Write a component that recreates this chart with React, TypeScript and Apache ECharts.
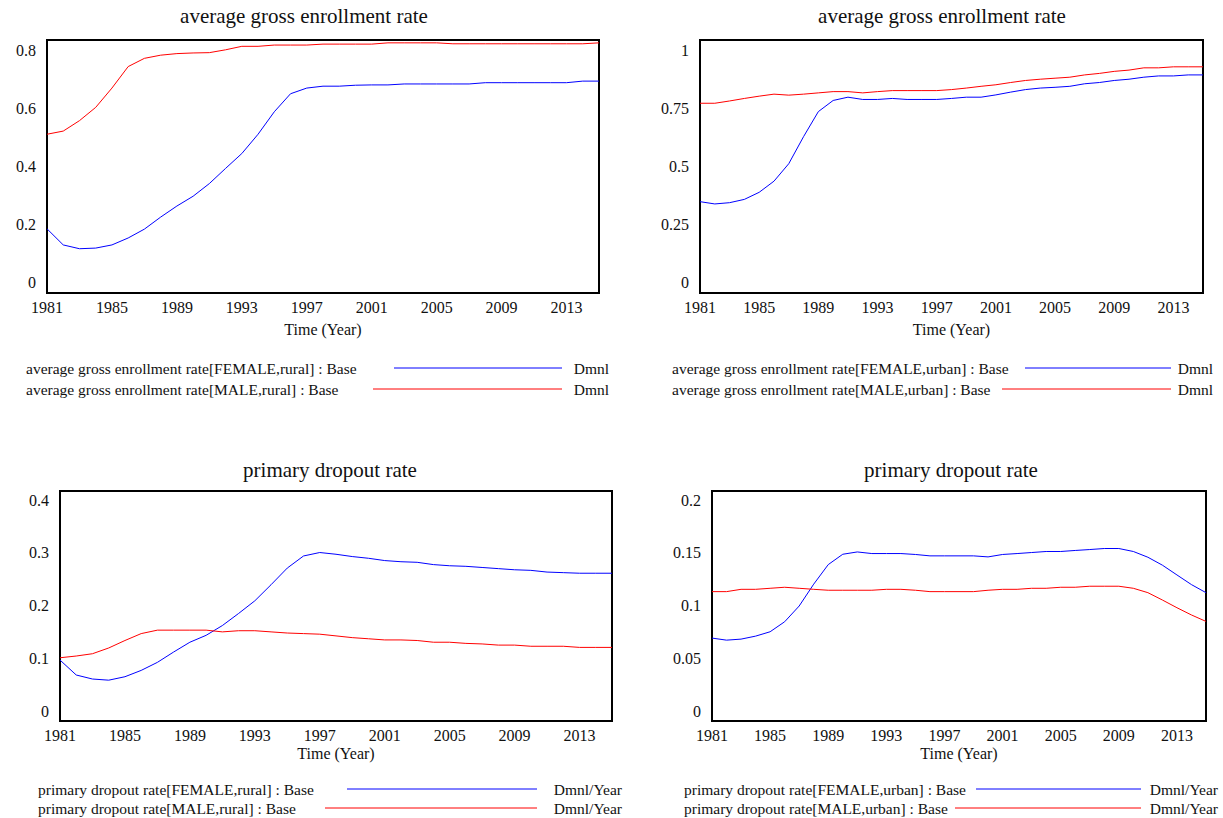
import React, { useEffect, useRef } from "react";
import * as echarts from "echarts";

const years = [1981, 1982, 1983, 1984, 1985, 1986, 1987, 1988, 1989, 1990, 1991, 1992, 1993, 1994, 1995, 1996, 1997, 1998, 1999, 2000, 2001, 2002, 2003, 2004, 2005, 2006, 2007, 2008, 2009, 2010, 2011, 2012, 2013, 2014, 2015];

const femaleRuralEnroll = [0.203, 0.152, 0.140, 0.142, 0.152, 0.174, 0.202, 0.240, 0.275, 0.306, 0.346, 0.394, 0.441, 0.502, 0.573, 0.630, 0.648, 0.654, 0.654, 0.657, 0.658, 0.658, 0.661, 0.661, 0.661, 0.661, 0.661, 0.665, 0.665, 0.665, 0.665, 0.665, 0.665, 0.670, 0.670];
const maleRuralEnroll = [0.502, 0.512, 0.545, 0.587, 0.648, 0.716, 0.742, 0.752, 0.757, 0.759, 0.760, 0.769, 0.780, 0.780, 0.784, 0.784, 0.784, 0.787, 0.787, 0.787, 0.787, 0.791, 0.791, 0.791, 0.791, 0.788, 0.788, 0.788, 0.788, 0.788, 0.788, 0.788, 0.788, 0.788, 0.791];
const femaleUrbanEnroll = [0.361, 0.352, 0.357, 0.370, 0.398, 0.442, 0.511, 0.618, 0.717, 0.761, 0.774, 0.765, 0.765, 0.769, 0.765, 0.765, 0.765, 0.769, 0.774, 0.774, 0.783, 0.794, 0.804, 0.810, 0.813, 0.817, 0.827, 0.832, 0.840, 0.845, 0.853, 0.858, 0.858, 0.862, 0.862];
const maleUrbanEnroll = [0.750, 0.750, 0.759, 0.769, 0.778, 0.786, 0.782, 0.786, 0.791, 0.796, 0.796, 0.791, 0.796, 0.800, 0.800, 0.800, 0.800, 0.804, 0.810, 0.817, 0.823, 0.832, 0.840, 0.845, 0.849, 0.853, 0.862, 0.868, 0.876, 0.881, 0.890, 0.890, 0.894, 0.894, 0.894];
const femaleRuralDrop = [0.106, 0.080, 0.073, 0.071, 0.077, 0.088, 0.102, 0.120, 0.137, 0.149, 0.166, 0.187, 0.209, 0.237, 0.266, 0.287, 0.293, 0.290, 0.286, 0.283, 0.279, 0.277, 0.276, 0.272, 0.270, 0.269, 0.267, 0.265, 0.263, 0.262, 0.259, 0.258, 0.257, 0.257, 0.257];
const maleRuralDrop = [0.110, 0.113, 0.117, 0.127, 0.140, 0.152, 0.158, 0.158, 0.158, 0.158, 0.155, 0.157, 0.157, 0.155, 0.153, 0.152, 0.151, 0.148, 0.145, 0.143, 0.141, 0.141, 0.140, 0.137, 0.137, 0.135, 0.134, 0.132, 0.132, 0.130, 0.130, 0.130, 0.128, 0.128, 0.128];
const femaleUrbanDrop = [0.0721, 0.0703, 0.0712, 0.0738, 0.0776, 0.0863, 0.100, 0.119, 0.136, 0.145, 0.147, 0.1456, 0.1456, 0.1456, 0.1448, 0.1436, 0.1436, 0.1436, 0.1436, 0.1427, 0.1448, 0.1456, 0.1465, 0.1474, 0.1474, 0.1483, 0.1491, 0.150, 0.150, 0.1474, 0.1424, 0.1355, 0.127, 0.1186, 0.1116];
const maleUrbanDrop = [0.1125, 0.1125, 0.1145, 0.1145, 0.1154, 0.1163, 0.1154, 0.1145, 0.1137, 0.1137, 0.1137, 0.1137, 0.1145, 0.1145, 0.1137, 0.1125, 0.1125, 0.1125, 0.1125, 0.1137, 0.1145, 0.1145, 0.1154, 0.1154, 0.1163, 0.1163, 0.1172, 0.1172, 0.1172, 0.1154, 0.1116, 0.1052, 0.0985, 0.0922, 0.0866];

const chartTitles = ["average gross enrollment rate", "average gross enrollment rate", "primary dropout rate", "primary dropout rate"];
const xAxisName = "Time (Year)";
const yMax = [0.8, 1, 0.4, 0.2];
const yStep = [0.2, 0.25, 0.1, 0.05];
const femaleLegend = [
  "average gross enrollment rate[FEMALE,rural] : Base",
  "average gross enrollment rate[FEMALE,urban] : Base",
  "primary dropout rate[FEMALE,rural] : Base",
  "primary dropout rate[FEMALE,urban] : Base",
];
const maleLegend = [
  "average gross enrollment rate[MALE,rural] : Base",
  "average gross enrollment rate[MALE,urban] : Base",
  "primary dropout rate[MALE,rural] : Base",
  "primary dropout rate[MALE,urban] : Base",
];
const units = ["Dmnl", "Dmnl", "Dmnl/Year", "Dmnl/Year"];

const FONT = "Liberation Serif";
const BLUE = "#0000ff";
const RED = "#ff0000";

// layout (pixels)
const grids = [
  { left: 47, top: 40, width: 552, height: 253 },
  { left: 700, top: 40, width: 503, height: 253 },
  { left: 60, top: 491, width: 552, height: 230 },
  { left: 712, top: 491, width: 494, height: 230 },
];
const titleCenters = [
  [304, 16],
  [942, 16],
  [330, 470],
  [951, 470],
];
const labelOffsets = [
  [-11, -5.5, 0, 5, 10],
  [-11, -5.5, 0, 5, 10],
  [-10, -5.5, -1, 3.5, 9.5],
  [-10, -5.5, -1, 3.5, 9.5],
];
const legendLayout = [
  { textX: 26, rows: [368, 389], blueX: 394, redX: 373, lineEnd: 562, unitRight: 609 },
  { textX: 672, rows: [368, 389], blueX: 1025, redX: 1002, lineEnd: 1171, unitRight: 1213 },
  { textX: 38, rows: [789, 808], blueX: 347, redX: 325, lineEnd: 537, unitRight: 622 },
  { textX: 684, rows: [789, 808], blueX: 976, redX: 955, lineEnd: 1141, unitRight: 1218 },
];

const seriesPairs = [
  [femaleRuralEnroll, maleRuralEnroll],
  [femaleUrbanEnroll, maleUrbanEnroll],
  [femaleRuralDrop, maleRuralDrop],
  [femaleUrbanDrop, maleUrbanDrop],
];

function richFor(offsets: number[]) {
  const rich: Record<string, any> = {};
  offsets.forEach((d, i) => {
    rich["p" + i] = {
      fontFamily: FONT,
      fontSize: 16,
      color: "#111",
      padding: d >= 0 ? [2 * d, 0, 0, 0] : [0, 0, -2 * d, 0],
    };
  });
  return rich;
}

export default function App() {
  const ref = useRef<HTMLDivElement>(null);
  useEffect(() => {
    if (!ref.current) return;
    const chart = echarts.init(ref.current, null, { renderer: "svg", width: 1223, height: 818 });

    const grid = grids.map((g) => ({
      ...g,
      show: true,
      borderColor: "#000",
      borderWidth: 2,
      backgroundColor: "#fff",
      z: 3,
    }));

    const xAxis = grids.map((g, i) => ({
      type: "value",
      gridIndex: i,
      min: 1981,
      max: 2015,
      interval: 2,
      name: xAxisName,
      nameLocation: "middle",
      nameGap: i < 2 ? 28 : 24,
      nameTextStyle: { fontFamily: FONT, fontSize: 16, color: "#111" },
      axisLine: { show: false },
      axisTick: { show: false },
      splitLine: { show: true, lineStyle: { color: "#cfcfcf", width: 1 } },
      axisLabel: {
        margin: 6,
        fontFamily: FONT,
        fontSize: 16,
        color: "#111",
        showMinLabel: true,
        showMaxLabel: true,
        formatter: (v: number) => ((v - 1981) % 4 === 0 && v < 2015 ? String(v) : ""),
      },
    }));

    const yAxis = grids.map((g, i) => ({
      type: "value",
      gridIndex: i,
      min: 0,
      max: yMax[i],
      interval: yStep[i],
      axisLine: { show: false },
      axisTick: { show: false },
      splitLine: { show: true, lineStyle: { color: "#cfcfcf", width: 1 } },
      axisLabel: {
        margin: 11,
        fontFamily: FONT,
        fontSize: 16,
        color: "#111",
        showMinLabel: true,
        showMaxLabel: true,
        formatter: (v: number, idx: number) => {
          const s = String(Math.round(v * 10000) / 10000);
          return "{p" + idx + "|" + s + "}";
        },
        rich: richFor(labelOffsets[i]),
      },
    }));

    const series: any[] = [];
    seriesPairs.forEach((pair, i) => {
      series.push({
        type: "line",
        name: femaleLegend[i],
        xAxisIndex: i,
        yAxisIndex: i,
        data: years.map((y, k) => [y, pair[0][k]]),
        showSymbol: false,
        symbol: "none",
        lineStyle: { color: BLUE, width: 1 },
        itemStyle: { color: BLUE },
        z: 4,
      });
      series.push({
        type: "line",
        name: maleLegend[i],
        xAxisIndex: i,
        yAxisIndex: i,
        data: years.map((y, k) => [y, pair[1][k]]),
        showSymbol: false,
        symbol: "none",
        lineStyle: { color: RED, width: 1 },
        itemStyle: { color: RED },
        z: 4,
      });
    });

    const graphic: any[] = [];
    chartTitles.forEach((t, i) => {
      graphic.push({
        type: "text",
        x: titleCenters[i][0],
        y: titleCenters[i][1],
        style: {
          text: t,
          fontFamily: FONT,
          fontSize: 21,
          fill: "#111",
          textAlign: "center",
          textVerticalAlign: "middle",
        },
      });
    });
    legendLayout.forEach((L, i) => {
      const rows = [
        { text: femaleLegend[i], color: BLUE, x1: L.blueX, y: L.rows[0] },
        { text: maleLegend[i], color: RED, x1: L.redX, y: L.rows[1] },
      ];
      rows.forEach((r) => {
        graphic.push({
          type: "text",
          x: L.textX,
          y: r.y,
          style: {
            text: r.text,
            fontFamily: FONT,
            fontSize: 15.5,
            fill: "#111",
            textAlign: "left",
            textVerticalAlign: "middle",
          },
        });
        graphic.push({
          type: "line",
          shape: { x1: r.x1, y1: r.y, x2: L.lineEnd, y2: r.y },
          style: { stroke: r.color, lineWidth: 1 },
        });
        graphic.push({
          type: "text",
          x: L.unitRight,
          y: r.y,
          style: {
            text: units[i],
            fontFamily: FONT,
            fontSize: 15.5,
            fill: "#111",
            textAlign: "right",
            textVerticalAlign: "middle",
          },
        });
      });
    });

    chart.setOption({
      animation: false,
      backgroundColor: "#fff",
      textStyle: { fontFamily: FONT },
      grid,
      xAxis,
      yAxis,
      series,
      graphic,
    });
    return () => chart.dispose();
  }, []);
  return (
    <div
      ref={ref}
      style={{ position: "absolute", left: 0, top: 0, width: 1223, height: 818, background: "#fff" }}
    />
  );
}
